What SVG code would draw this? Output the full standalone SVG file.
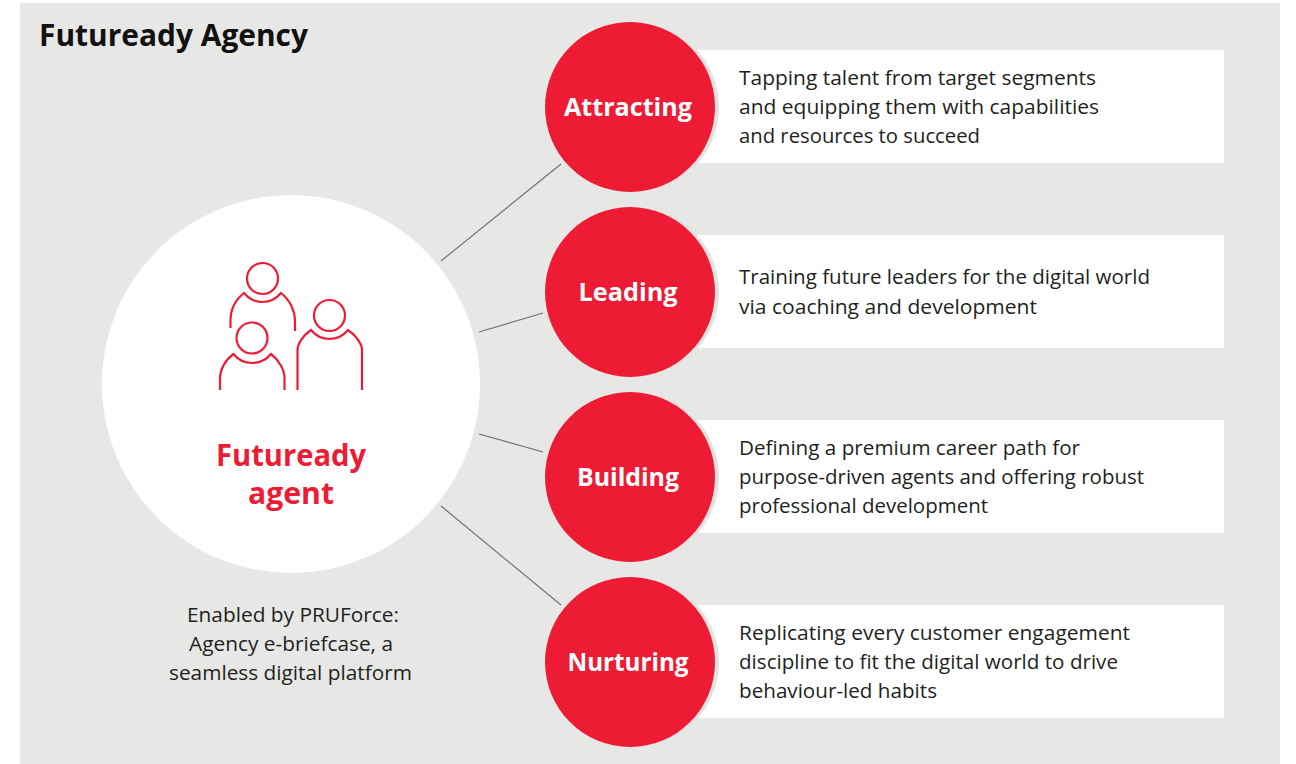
<svg xmlns="http://www.w3.org/2000/svg" width="1296" height="764" viewBox="0 0 1296 764">
<style>
text{font-family:"Open Sans","Noto Sans","Liberation Sans",sans-serif}
.d{font-size:20.800px;fill:#231f20}
.c{font-size:20.800px;fill:#231f20;text-anchor:middle}
.l{font-size:25.500px;font-weight:700;fill:#fff;text-anchor:middle}
.p{fill:#fff}
.s{fill:#e3e3e2}
.r{fill:#ed1b33}
.i{fill:none;stroke:#ed1b33;stroke-width:2.200}
.k{stroke:#6d7378;stroke-width:1.200;fill:none}
</style>
<rect width="1296" height="764" fill="#fff"/>
<rect x="20" y="3" width="1260" height="761" fill="#e7e7e5"/>
<text x="39" y="46" font-size="30" font-weight="700" fill="#111" textLength="269" lengthAdjust="spacingAndGlyphs">Futuready Agency</text>
<g id="connectors">
<line class="k" x1="441" y1="261" x2="561" y2="164"/>
<line class="k" x1="479" y1="332" x2="543" y2="313"/>
<line class="k" x1="479" y1="434" x2="543" y2="452"/>
<line class="k" x1="441" y1="506" x2="561" y2="605"/>
</g>
<g id="agent">
<circle class="p" cx="291" cy="384" r="189"/>
<g id="icon">
<circle class="i" cx="262.500" cy="278.500" r="15.500"/>
<path class="i" d="M230.500 328V321C230.500 310 235 300 244 293C254 305 271 305 281 293C290 300 295 311 295 321V331"/>
<circle class="i" cx="329.500" cy="315.500" r="15.500"/>
<path class="i" d="M297.500 390V350C297.500 345 302 336 311 330C321 342 338 342 348 330C357 336 362 345 362 350V390"/>
<circle class="i" cx="252" cy="338" r="15.500"/>
<path class="i" d="M220 390V378C220 370 225 360 233.500 354C243 366 261 366 271 354C279 360 284.500 370 284.500 378V390"/>
</g>
<text x="291" y="466" font-size="30" font-weight="700" fill="#ed1b33" text-anchor="middle" textLength="150" lengthAdjust="spacingAndGlyphs">Futuready</text>
<text x="291" y="504" font-size="30" font-weight="700" fill="#ed1b33" text-anchor="middle" textLength="86" lengthAdjust="spacingAndGlyphs">agent</text>
</g>
<g id="caption">
<text class="c" x="293" y="622" textLength="212" lengthAdjust="spacingAndGlyphs">Enabled by PRUForce:</text>
<text class="c" x="291" y="651" textLength="204" lengthAdjust="spacingAndGlyphs">Agency e-briefcase, a</text>
<text class="c" x="290.500" y="680" textLength="243" lengthAdjust="spacingAndGlyphs">seamless digital platform</text>
</g>
<g id="attracting">
<rect class="p" x="696" y="50" width="528" height="113"/>
<circle class="s" cx="634" cy="107" r="85"/>
<circle class="r" cx="630" cy="107" r="85"/>
<text class="l" x="628" y="116" textLength="128" lengthAdjust="spacingAndGlyphs">Attracting</text>
<text class="d" x="739" y="85" textLength="357" lengthAdjust="spacingAndGlyphs">Tapping talent from target segments</text>
<text class="d" x="739" y="114" textLength="360" lengthAdjust="spacingAndGlyphs">and equipping them with capabilities</text>
<text class="d" x="739" y="143" textLength="241" lengthAdjust="spacingAndGlyphs">and resources to succeed</text>
</g>
<g id="leading">
<rect class="p" x="696" y="235" width="528" height="113"/>
<circle class="s" cx="634" cy="292" r="85"/>
<circle class="r" cx="630" cy="292" r="85"/>
<text class="l" x="628" y="301" textLength="99" lengthAdjust="spacingAndGlyphs">Leading</text>
<text class="d" x="739" y="284" textLength="411" lengthAdjust="spacingAndGlyphs">Training future leaders for the digital world</text>
<text class="d" x="739" y="314" textLength="298" lengthAdjust="spacingAndGlyphs">via coaching and development</text>
</g>
<g id="building">
<rect class="p" x="696" y="420" width="528" height="113"/>
<circle class="s" cx="634" cy="477" r="85"/>
<circle class="r" cx="630" cy="477" r="85"/>
<text class="l" x="628" y="486" textLength="102" lengthAdjust="spacingAndGlyphs">Building</text>
<text class="d" x="739" y="455" textLength="341" lengthAdjust="spacingAndGlyphs">Defining a premium career path for</text>
<text class="d" x="739" y="484" textLength="405" lengthAdjust="spacingAndGlyphs">purpose-driven agents and offering robust</text>
<text class="d" x="739" y="513" textLength="249" lengthAdjust="spacingAndGlyphs">professional development</text>
</g>
<g id="nurturing">
<rect class="p" x="696" y="605" width="528" height="113"/>
<circle class="s" cx="634" cy="662" r="85"/>
<circle class="r" cx="630" cy="662" r="85"/>
<text class="l" x="628" y="671" textLength="121" lengthAdjust="spacingAndGlyphs">Nurturing</text>
<text class="d" x="739" y="640" textLength="391" lengthAdjust="spacingAndGlyphs">Replicating every customer engagement</text>
<text class="d" x="739" y="669" textLength="379" lengthAdjust="spacingAndGlyphs">discipline to fit the digital world to drive</text>
<text class="d" x="739" y="698" textLength="198" lengthAdjust="spacingAndGlyphs">behaviour-led habits</text>
</g>
</svg>
